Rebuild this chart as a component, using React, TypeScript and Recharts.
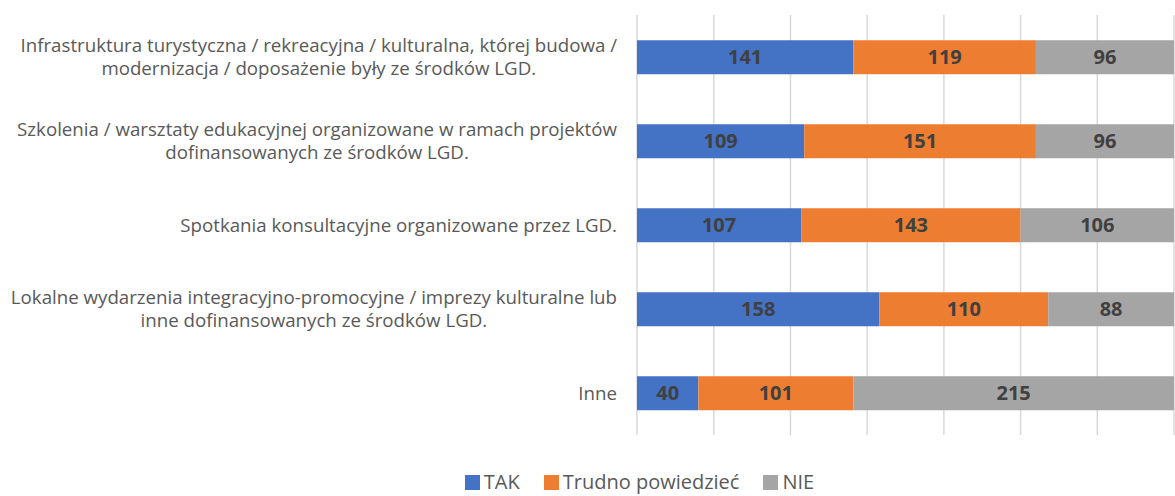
import React from "react";
import {
  BarChart,
  Bar,
  XAxis,
  YAxis,
  CartesianGrid,
  Legend,
  LabelList,
} from "recharts";

const categories = [
  "Infrastruktura turystyczna / rekreacyjna / kulturalna, której budowa /\nmodernizacja / doposażenie były ze środków LGD.",
  "Szkolenia / warsztaty edukacyjnej organizowane w ramach projektów\ndofinansowanych ze środków LGD.",
  "Spotkania konsultacyjne organizowane przez LGD.",
  "Lokalne wydarzenia integracyjno-promocyjne / imprezy kulturalne lub\ninne dofinansowanych ze środków LGD.",
  "Inne",
];
const tak = [141, 109, 107, 158, 40];
const trudno = [119, 151, 143, 110, 101];
const nie = [96, 96, 106, 88, 215];
const xTicks = [0, 50, 100, 150, 200, 250, 300, 350];

const SERIES = [
  { key: "tak", name: "TAK", color: "#4472C4" },
  { key: "trudno", name: "Trudno powiedzieć", color: "#ED7D31" },
  { key: "nie", name: "NIE", color: "#A5A5A5" },
];

const data = categories.map((name, i) => ({
  name,
  tak: tak[i],
  trudno: trudno[i],
  nie: nie[i],
}));

const FONT = "'Open Sans', sans-serif";
const LABEL_SIZE = 18.7;

let ctx: CanvasRenderingContext2D | null = null;
const measure = (text: string) => {
  if (!ctx) ctx = document.createElement("canvas").getContext("2d");
  if (!ctx) return text.length * 9;
  ctx.font = `${LABEL_SIZE}px 'Open Sans'`;
  return ctx.measureText(text).width;
};

// multi-line category label, lines centred on each other, block right aligned
const CategoryTick = ({ x, y, payload }: any) => {
  const lines = String(payload.value).split("\n");
  const w = Math.max(...lines.map(measure));
  const right = x - 12;
  const lh = 23;
  const start = y - ((lines.length - 1) * lh) / 2;
  return (
    <g>
      {lines.map((ln, i) => (
        <text
          key={i}
          x={right - w / 2}
          y={start + i * lh}
          dy="0.35em"
          textAnchor="middle"
          fill="#595959"
          fontSize={LABEL_SIZE}
          fontFamily={FONT}
        >
          {ln}
        </text>
      ))}
    </g>
  );
};

const LegendContent = () => (
  <div
    style={{
      display: "flex",
      justifyContent: "center",
      gap: 24,
      fontFamily: FONT,
      fontSize: 20,
      lineHeight: "26px",
      height: 26,
      color: "#595959",
    }}
  >
    {SERIES.map((s) => (
      <div key={s.key} style={{ display: "flex", alignItems: "center" }}>
        <span
          style={{
            width: 15,
            height: 15,
            background: s.color,
            display: "inline-block",
            marginRight: 4,
          }}
        />
        {s.name}
      </div>
    ))}
  </div>
);

export default function App() {
  return (
    <div style={{ position: "absolute", left: 0, top: 0, background: "#fff" }}>
      <BarChart
        width={1175}
        height={496}
        data={data}
        layout="vertical"
        barCategoryGap="30%"
        margin={{ top: 15, right: 1, left: 0, bottom: 35 }}
      >
        <CartesianGrid horizontal={false} stroke="#D9D9D9" strokeWidth={1.5} />
        <XAxis
          type="number"
          domain={[0, 350]}
          ticks={xTicks}
          allowDataOverflow
          tick={{ fill: "transparent", fontSize: 1 }}
          axisLine={false}
          tickLine={false}
          height={0}
        />
        <YAxis
          type="category"
          dataKey="name"
          width={637}
          axisLine={false}
          tickLine={false}
          interval={0}
          tick={<CategoryTick />}
        />
        <Legend
          verticalAlign="bottom"
          content={<LegendContent />}
          wrapperStyle={{ left: 102, width: 1075, bottom: 1 }}
        />
        {SERIES.map((s) => (
          <Bar
            key={s.key}
            dataKey={s.key}
            name={s.name}
            stackId="a"
            fill={s.color}
            isAnimationActive={false}
          >
            <LabelList
              dataKey={s.key}
              position="center"
              fill="#404040"
              fontSize={20}
              fontWeight="bold"
              fontFamily={FONT}
            />
          </Bar>
        ))}
      </BarChart>
    </div>
  );
}
